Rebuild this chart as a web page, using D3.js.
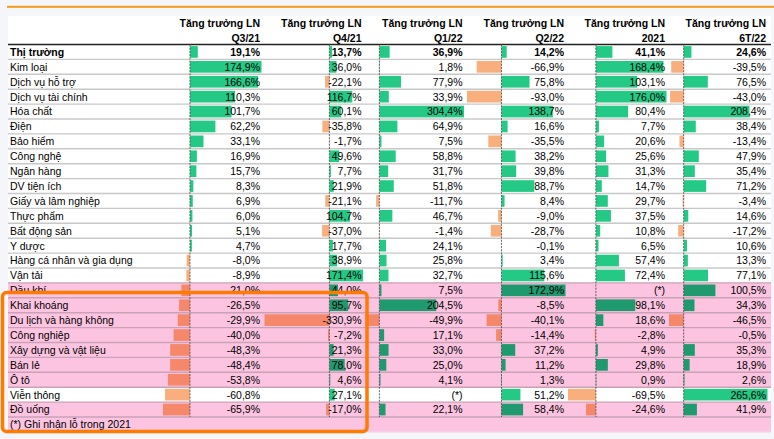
<!DOCTYPE html>
<html><head><meta charset="utf-8">
<script src="https://cdn.jsdelivr.net/npm/d3@7"></script>
<style>
html,body{margin:0;padding:0;background:#f4f6f9;}
svg{display:block;font-family:"Liberation Sans",Arial,sans-serif;}
</style></head>
<body><svg id="c" width="774" height="439"></svg>
<script>
const categories = ["Thị trường","Kim loại","Dịch vụ hỗ trợ","Dịch vụ tài chính","Hóa chất","Điện","Bảo hiểm","Công nghệ","Ngân hàng","DV tiện ích","Giấy và lâm nghiệp","Thực phẩm","Bất động sản","Y dược","Hàng cá nhân và gia dụng","Vận tải","Dầu khí","Khai khoáng","Du lịch và hàng không","Công nghiệp","Xây dựng và vật liệu","Bán lẻ","Ô tô","Viễn thông","Đồ uống"];
const headerLine1 = "Tăng trưởng LN";
const periods = ["Q3/21","Q4/21","Q1/22","Q2/22","2021","6T/22"];
const q321 = [19.1,174.9,166.6,110.3,101.7,62.2,33.1,16.9,15.7,8.3,6.9,6.0,5.1,4.7,-8.0,-8.9,-21.0,-26.5,-29.9,-40.0,-48.3,-48.4,-53.8,-60.8,-65.9];
const q421 = [13.7,36.0,-22.1,116.7,60.1,-35.8,-1.7,49.6,7.7,21.9,-21.1,104.7,-37.0,17.7,38.9,171.4,44.0,95.7,-330.9,-7.2,21.3,78.0,4.6,27.1,-17.0];
const q122 = [36.9,1.8,77.9,33.9,304.4,64.9,7.5,58.8,31.7,51.8,-11.7,46.7,-1.4,24.1,25.8,32.7,7.5,204.5,-49.9,17.1,33.0,25.0,4.1,null,22.1];
const q222 = [14.2,-66.9,75.8,-93.0,138.7,16.6,-35.5,38.2,39.8,88.7,8.4,-9.0,-28.7,-0.1,3.4,115.6,172.9,-8.5,-40.1,-14.4,37.2,11.2,1.3,51.2,58.4];
const y2021 = [41.1,168.4,103.1,176.0,80.4,7.7,20.6,25.6,31.3,14.7,29.7,37.5,10.8,6.5,57.4,72.4,null,98.1,18.6,-2.8,4.9,29.8,0.9,-69.5,-24.6];
const h122 = [24.6,-39.5,76.5,-43.0,208.4,38.4,-13.4,47.9,35.4,71.2,-3.4,14.6,-17.2,10.6,13.3,77.1,100.5,34.3,-46.5,-0.5,35.3,18.9,2.6,265.6,41.9];
const pinkRows = ["Dầu khí","Khai khoáng","Du lịch và hàng không","Công nghiệp","Xây dựng và vật liệu","Bán lẻ","Ô tô","Đồ uống"];
const footnote = "(*) Ghi nhận lỗ trong 2021";
const missingText = "(*)";

const series = [q321,q421,q122,q222,y2021,h122];
const svg = d3.select("#c");
const W = 774;
const tableLeft = 8, tableRight = 771;
const headerLineY = 44.5, rowH = 14.9;
const nRows = categories.length;
const rowTop = i => headerLineY + i*rowH;
const colRights = [260, 361.5, 462.5, 564, 665, 766];
const fs = 10.5;

// backgrounds
svg.append("rect").attr("x",tableLeft).attr("y",16).attr("width",tableRight-tableLeft).attr("height",417).attr("fill","#fff");
svg.append("rect").attr("x",tableLeft-1).attr("y",5.8).attr("width",W-tableLeft+1).attr("height",2).attr("fill","#f39a1e");

// pink rows
const pinkIdx = categories.map((c,i)=>pinkRows.includes(c)?i:-1).filter(i=>i>=0);
svg.selectAll("rect.pink").data(pinkIdx).join("rect").attr("class","pink")
  .attr("x",tableLeft).attr("y",i=>rowTop(i)).attr("width",tableRight-tableLeft).attr("height",rowH).attr("fill","#fcc4e0");
svg.append("rect").attr("x",tableLeft).attr("y",rowTop(nRows)).attr("width",tableRight-tableLeft).attr("height",rowH+0.5).attr("fill","#fcc4e0");

// row separators
d3.range(1,nRows+1).forEach(i=>{
  const pinkAdj = pinkIdx.includes(i) || pinkIdx.includes(i-1) || i===nRows;
  svg.append("line").attr("x1",tableLeft).attr("x2",tableRight).attr("y1",rowTop(i)).attr("y2",rowTop(i))
    .attr("stroke", pinkAdj ? "#c9a2b8" : "#c8c8c8").attr("stroke-width",1.4);
});
svg.append("line").attr("x1",tableLeft).attr("x2",tableRight).attr("y1",rowTop(nRows+1)).attr("y2",rowTop(nRows+1))
  .attr("stroke","#f0d8e6").attr("stroke-width",1);

// header
svg.append("line").attr("x1",tableLeft).attr("x2",tableRight).attr("y1",headerLineY).attr("y2",headerLineY).attr("stroke","#222").attr("stroke-width",1.3);
periods.forEach((p,j)=>{
  svg.append("text").attr("x",colRights[j]).attr("y",27).attr("text-anchor","end").attr("font-size",fs).attr("font-weight","bold").text(headerLine1);
  svg.append("text").attr("x",colRights[j]).attr("y",41.5).attr("text-anchor","end").attr("font-size",fs).attr("font-weight","bold").text(p);
});

const fmt = v => v===null ? missingText : v.toFixed(1).replace(".",",")+"%";

// columns
series.forEach((vals,j)=>{
  const valid = vals.filter(v=>v!==null);
  const x = d3.scaleLinear().domain([Math.min(0,d3.min(valid)), Math.max(0,d3.max(valid))]).range([colRights[j]-97, colRights[j]+1.5]);
  const g = svg.append("g");
  g.selectAll("rect").data(vals.map((v,i)=>({v,i})).filter(d=>d.v!==null)).join("rect")
    .attr("x",d=>Math.min(x(0),x(d.v)))
    .attr("y",d=>rowTop(d.i)+1.6)
    .attr("width",d=>Math.abs(x(d.v)-x(0)))
    .attr("height",rowH-3.2)
    .attr("fill",d=>{
      const pink = pinkIdx.includes(d.i);
      if (d.v>=0) return pink ? "#1f9a6f" : "#25c986";
      return pink ? "#f5876b" : "#f9ae7d";
    });
  g.append("line").attr("x1",x(0)).attr("x2",x(0)).attr("y1",headerLineY).attr("y2",rowTop(nRows))
    .attr("stroke","#555").attr("stroke-width",0.9).attr("stroke-dasharray","2,1.2");
  g.selectAll("text").data(vals).join("text")
    .attr("x",colRights[j]).attr("y",(d,i)=>rowTop(i)+rowH/2+3.9)
    .attr("text-anchor","end").attr("font-size",fs)
    .attr("font-weight",(d,i)=>i===0?"bold":"normal")
    .text(fmt);
});

// labels
svg.selectAll("text.lab").data(categories).join("text").attr("class","lab")
  .attr("x",10).attr("y",(d,i)=>rowTop(i)+rowH/2+3.9)
  .attr("font-size",fs).attr("font-weight",(d,i)=>i===0?"bold":"normal").text(d=>d);
svg.append("text").attr("x",10).attr("y",rowTop(nRows)+rowH/2+3.9).attr("font-size",fs).text(footnote);

// highlight box
svg.append("rect").attr("x",2.5).attr("y",292.5).attr("width",364.5).attr("height",139)
  .attr("rx",4).attr("fill","none").attr("stroke","#ff7a00").attr("stroke-width",3.5);
</script></body></html>
